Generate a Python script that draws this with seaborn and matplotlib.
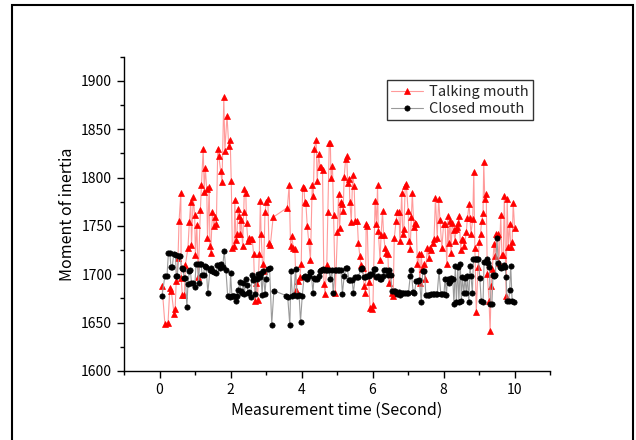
import matplotlib
matplotlib.use("Agg")
import matplotlib.pyplot as plt
from matplotlib.lines import Line2D
from matplotlib.ticker import MultipleLocator
import seaborn as sns

# Talking mouth (time in s, moment of inertia)
talk_t = [0.07, 0.15, 0.24, 0.29, 0.33, 0.41, 0.44, 0.47, 0.52, 0.55,
          0.60, 0.61, 0.64, 0.70, 0.73, 0.80, 0.84, 0.88, 0.90, 0.95,
          0.99, 1.01, 1.05, 1.09, 1.15, 1.18, 1.23, 1.26, 1.29, 1.33,
          1.35, 1.40, 1.42, 1.44, 1.49, 1.53, 1.57, 1.60, 1.64, 1.67,
          1.72, 1.76, 1.81, 1.84, 1.90, 1.95, 1.99, 2.02, 2.05, 2.10,
          2.12, 2.15, 2.18, 2.21, 2.25, 2.27, 2.30, 2.34, 2.37, 2.39,
          2.43, 2.45, 2.49, 2.53, 2.57, 2.61, 2.65, 2.69, 2.73, 2.76,
          2.81, 2.84, 2.86, 2.90, 2.93, 2.97, 3.01, 3.05, 3.08, 3.12,
          3.20, 3.60, 3.65, 3.69, 3.72, 3.77, 3.81, 3.85, 3.89, 3.95,
          3.99, 4.03, 4.07, 4.09, 4.12, 4.16, 4.20, 4.25, 4.30, 4.33,
          4.36, 4.41, 4.44, 4.48, 4.52, 4.56, 4.59, 4.63, 4.66, 4.71,
          4.74, 4.78, 4.81, 4.83, 4.87, 4.90, 4.95, 5.01, 5.04, 5.07,
          5.11, 5.13, 5.17, 5.20, 5.24, 5.27, 5.30, 5.34, 5.36, 5.40,
          5.44, 5.48, 5.51, 5.57, 5.60, 5.64, 5.67, 5.72, 5.76, 5.80,
          5.82, 5.85, 5.89, 5.93, 5.97, 6.01, 6.07, 6.11, 6.14, 6.16,
          6.21, 6.24, 6.28, 6.31, 6.35, 6.39, 6.43, 6.46, 6.49, 6.54,
          6.58, 6.61, 6.66, 6.70, 6.74, 6.77, 6.82, 6.85, 6.88, 6.92,
          6.95, 7.00, 7.03, 7.06, 7.09, 7.12, 7.16, 7.19, 7.23, 7.26,
          7.30, 7.33, 7.37, 7.40, 7.45, 7.48, 7.54, 7.58, 7.62, 7.65,
          7.69, 7.73, 7.77, 7.82, 7.86, 7.90, 7.95, 8.00, 8.04, 8.09,
          8.12, 8.14, 8.18, 8.21, 8.24, 8.28, 8.32, 8.35, 8.39, 8.41,
          8.44, 8.48, 8.51, 8.55, 8.58, 8.64, 8.67, 8.72, 8.74, 8.77,
          8.82, 8.85, 8.88, 8.92, 8.97, 9.00, 9.04, 9.07, 9.11, 9.13,
          9.16, 9.20, 9.23, 9.28, 9.31, 9.34, 9.37, 9.42, 9.45, 9.48,
          9.52, 9.56, 9.61, 9.64, 9.68, 9.71, 9.76, 9.79, 9.82, 9.86,
          9.89, 9.93, 9.96, 10.00]
talk_v = [1688, 1649, 1650, 1686, 1683, 1659, 1664, 1693, 1717, 1755,
          1784, 1696, 1679, 1679, 1710, 1727, 1754, 1775, 1730, 1780,
          1761, 1720, 1751, 1697, 1766, 1792, 1830, 1785, 1810, 1788,
          1738, 1790, 1729, 1722, 1764, 1750, 1759, 1752, 1830, 1822,
          1807, 1795, 1883, 1828, 1864, 1833, 1839, 1796, 1727, 1729,
          1777, 1735, 1742, 1768, 1760, 1742, 1756, 1729, 1764, 1788,
          1784, 1753, 1734, 1737, 1736, 1736, 1721, 1672, 1691, 1673,
          1721, 1776, 1742, 1711, 1703, 1764, 1775, 1778, 1732, 1730,
          1759, 1769, 1792, 1729, 1740, 1727, 1726, 1684, 1693, 1697,
          1711, 1790, 1789, 1775, 1774, 1750, 1734, 1715, 1792, 1781,
          1830, 1839, 1796, 1824, 1811, 1811, 1808, 1690, 1680, 1710,
          1764, 1836, 1836, 1800, 1812, 1761, 1681, 1744, 1783, 1748,
          1775, 1773, 1765, 1801, 1819, 1822, 1794, 1799, 1775, 1754,
          1803, 1791, 1755, 1755, 1732, 1719, 1710, 1706, 1688, 1681,
          1752, 1750, 1692, 1665, 1664, 1668, 1776, 1752, 1792, 1745,
          1715, 1741, 1765, 1741, 1727, 1722, 1721, 1691, 1700, 1681,
          1677, 1737, 1755, 1764, 1764, 1734, 1784, 1742, 1747, 1791,
          1793, 1765, 1734, 1726, 1759, 1784, 1749, 1753, 1752, 1711,
          1721, 1691, 1721, 1705, 1711, 1695, 1727, 1717, 1727, 1725,
          1732, 1736, 1779, 1738, 1778, 1756, 1727, 1752, 1752, 1711,
          1760, 1732, 1755, 1722, 1753, 1746, 1734, 1747, 1749, 1753,
          1760, 1725, 1736, 1735, 1729, 1744, 1758, 1773, 1758, 1742,
          1757, 1806, 1727, 1661, 1708, 1733, 1742, 1755, 1763, 1816,
          1778, 1783, 1700, 1672, 1641, 1688, 1705, 1731, 1719, 1742,
          1742, 1712, 1761, 1720, 1720, 1781, 1677, 1778, 1728, 1752,
          1728, 1733, 1774, 1748]

# Closed mouth
closed_t = [0.07, 0.15, 0.21, 0.25, 0.29, 0.32, 0.36, 0.40, 0.45, 0.47,
            0.50, 0.54, 0.58, 0.62, 0.66, 0.70, 0.73, 0.77, 0.80, 0.84,
            0.87, 0.90, 0.95, 0.99, 1.03, 1.07, 1.10, 1.13, 1.17, 1.20,
            1.24, 1.27, 1.31, 1.36, 1.42, 1.45, 1.49, 1.53, 1.58, 1.63,
            1.67, 1.71, 1.74, 1.78, 1.82, 1.87, 1.92, 1.98, 2.00, 2.04,
            2.07, 2.11, 2.14, 2.18, 2.22, 2.26, 2.29, 2.33, 2.36, 2.39,
            2.43, 2.46, 2.50, 2.53, 2.57, 2.60, 2.63, 2.67, 2.70, 2.74,
            2.78, 2.82, 2.85, 2.89, 2.92, 2.97, 3.00, 3.06, 3.10, 3.16,
            3.22, 3.56, 3.61, 3.67, 3.70, 3.74, 3.78, 3.83, 3.87, 3.93,
            3.97, 4.02, 4.07, 4.11, 4.16, 4.20, 4.24, 4.27, 4.32, 4.35,
            4.39, 4.43, 4.48, 4.52, 4.56, 4.60, 4.64, 4.68, 4.73, 4.77,
            4.81, 4.85, 4.89, 4.94, 4.98, 5.03, 5.06, 5.11, 5.15, 5.20,
            5.25, 5.29, 5.33, 5.37, 5.42, 5.46, 5.51, 5.56, 5.60, 5.66,
            5.70, 5.75, 5.80, 5.84, 5.89, 5.93, 5.98, 6.03, 6.06, 6.11,
            6.15, 6.20, 6.24, 6.29, 6.33, 6.38, 6.43, 6.47, 6.51, 6.55,
            6.60, 6.64, 6.69, 6.74, 6.78, 6.83, 6.87, 6.92, 6.96, 7.01,
            7.06, 7.09, 7.14, 7.18, 7.23, 7.27, 7.32, 7.37, 7.41, 7.46,
            7.50, 7.55, 7.59, 7.64, 7.69, 7.73, 7.78, 7.82, 7.87, 7.92,
            7.96, 8.01, 8.04, 8.08, 8.11, 8.15, 8.19, 8.22, 8.26, 8.29,
            8.33, 8.36, 8.40, 8.43, 8.47, 8.50, 8.53, 8.57, 8.60, 8.64,
            8.67, 8.71, 8.74, 8.77, 8.81, 8.84, 8.88, 8.91, 8.95, 8.98,
            9.02, 9.06, 9.11, 9.14, 9.19, 9.22, 9.26, 9.29, 9.32, 9.36,
            9.39, 9.43, 9.46, 9.50, 9.54, 9.58, 9.62, 9.66, 9.69, 9.73,
            9.76, 9.79, 9.83, 9.86, 9.89, 9.93, 9.98]
closed_v = [1678, 1698, 1698, 1722, 1722, 1708, 1708, 1721, 1720, 1698,
            1698, 1719, 1719, 1706, 1705, 1696, 1696, 1666, 1690, 1703,
            1704, 1691, 1691, 1687, 1711, 1711, 1691, 1711, 1711, 1699,
            1699, 1709, 1708, 1681, 1704, 1706, 1703, 1702, 1701, 1710,
            1710, 1706, 1711, 1708, 1724, 1704, 1677, 1676, 1701, 1677,
            1678, 1677, 1672, 1678, 1684, 1692, 1683, 1681, 1691, 1680,
            1695, 1689, 1681, 1682, 1676, 1699, 1694, 1696, 1680, 1695,
            1700, 1697, 1701, 1679, 1703, 1680, 1695, 1705, 1706, 1648,
            1683, 1678, 1676, 1647, 1703, 1678, 1679, 1705, 1678, 1679,
            1651, 1678, 1697, 1698, 1695, 1698, 1702, 1702, 1681, 1696,
            1695, 1695, 1698, 1703, 1704, 1705, 1704, 1704, 1704, 1704,
            1695, 1704, 1681, 1704, 1704, 1704, 1704, 1704, 1680, 1698,
            1706, 1706, 1694, 1694, 1694, 1681, 1697, 1697, 1697, 1705,
            1706, 1697, 1697, 1698, 1698, 1700, 1700, 1705, 1705, 1697,
            1698, 1695, 1695, 1698, 1704, 1704, 1699, 1704, 1699, 1683,
            1683, 1683, 1680, 1682, 1679, 1681, 1681, 1681, 1681, 1681,
            1698, 1704, 1682, 1681, 1693, 1693, 1694, 1671, 1703, 1703,
            1679, 1679, 1679, 1680, 1680, 1680, 1680, 1680, 1703, 1680,
            1680, 1680, 1695, 1679, 1695, 1691, 1693, 1696, 1695, 1669,
            1709, 1671, 1708, 1671, 1711, 1672, 1697, 1681, 1696, 1681,
            1698, 1671, 1709, 1698, 1681, 1716, 1716, 1716, 1716, 1716,
            1696, 1672, 1671, 1713, 1713, 1716, 1712, 1708, 1669, 1669,
            1699, 1698, 1699, 1738, 1712, 1708, 1706, 1708, 1710, 1708,
            1697, 1672, 1672, 1684, 1709, 1672, 1671]

series_names = ["Talking mouth", "Closed mouth"]
x_ticks = [0, 2, 4, 6, 8, 10]
y_ticks = [1600, 1650, 1700, 1750, 1800, 1850, 1900]

sns.set_theme(style="ticks")
plt.rcParams['font.family'] = ['Noto Sans CJK JP', 'DejaVu Sans']

fig = plt.figure(figsize=(6.36, 4.4), dpi=100)
ax = fig.add_axes([0.195, 0.157, 0.670, 0.714])

# outer frame like the exported image
fig.add_artist(plt.Rectangle((12 / 636, -0.05), 621 / 636, 1.05 - 5 / 440,
                             transform=fig.transFigure, fill=False,
                             edgecolor="black", linewidth=1.5))

talk_style = dict(color="#ff9a9a", linewidth=0.8, marker="^", markersize=4.6,
                  markerfacecolor="#ff0000", markeredgecolor="#ff0000",
                  markeredgewidth=0.5)
closed_style = dict(color="#9a9a9a", linewidth=0.8, marker="o", markersize=3.8,
                    markerfacecolor="black", markeredgecolor="black",
                    markeredgewidth=0.5)

sns.lineplot(x=talk_t, y=talk_v, ax=ax, sort=False, estimator=None, **talk_style)
sns.lineplot(x=closed_t, y=closed_v, ax=ax, sort=False, estimator=None, **closed_style)

ax.set_xlim(-1, 11)
ax.set_ylim(1600, 1925)
ax.set_xticks(x_ticks)
ax.set_yticks(y_ticks)
ax.xaxis.set_minor_locator(MultipleLocator(1))
ax.yaxis.set_minor_locator(MultipleLocator(25))
ax.tick_params(which="major", direction="out", length=5, width=1,
               colors="black", labelsize=10)
ax.tick_params(which="minor", direction="out", length=3, width=1,
               colors="black")
for side in ["top", "right"]:
    ax.spines[side].set_visible(False)
for side in ["left", "bottom"]:
    ax.spines[side].set_color("black")
    ax.spines[side].set_linewidth(1)

ax.set_xlabel("Measurement time (Second)", fontsize=11.5, color="black")
ax.set_ylabel("Moment of inertia", fontsize=11.5, color="black")

handles = [Line2D([], [], **talk_style), Line2D([], [], **closed_style)]
leg = ax.legend(handles, series_names, loc="upper right",
                bbox_to_anchor=(0.96, 0.925), frameon=True, fancybox=False,
                framealpha=1, edgecolor="#333333", fontsize=10.5,
                handlelength=2.2, borderpad=0.3, labelspacing=0.2,
                handletextpad=0.4, borderaxespad=0)
leg.get_frame().set_linewidth(1)

fig.savefig("out.png", dpi=100)
